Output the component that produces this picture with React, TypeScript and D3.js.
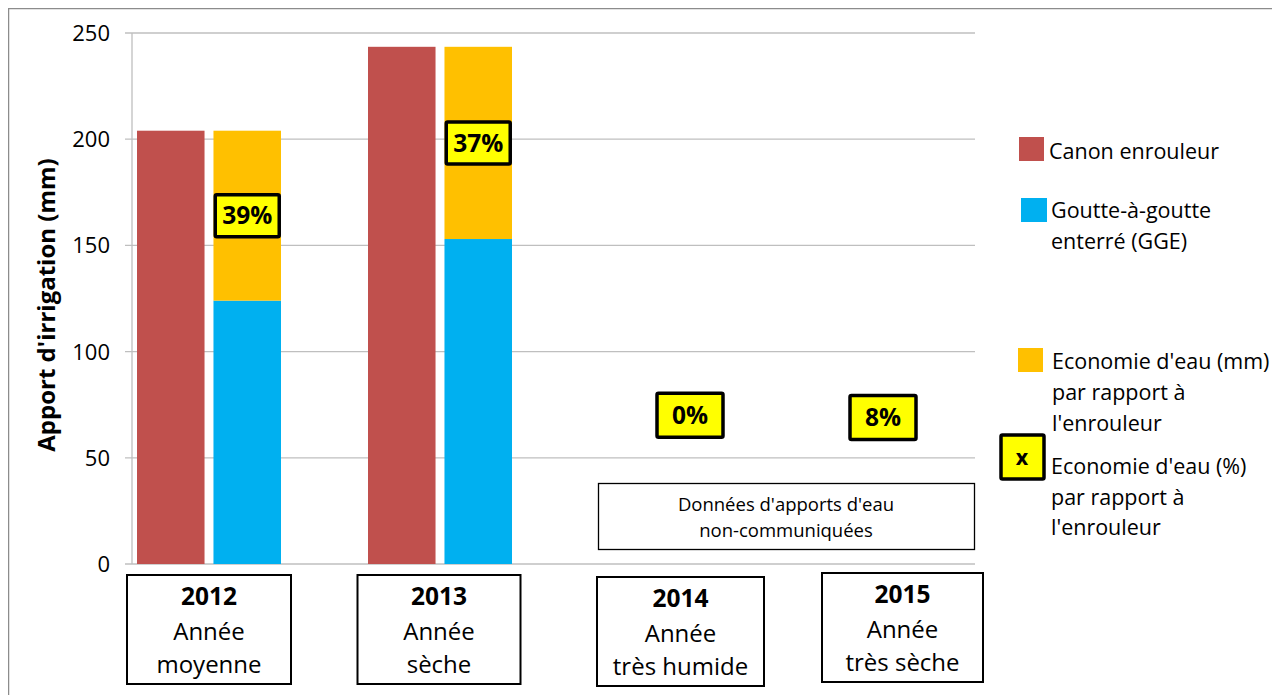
import React from "react";
import * as d3 from "d3";

const categories = ["2012", "2013", "2014", "2015"];
const categoryLine2 = ["Année", "Année", "Année", "Année"];
const categoryLine3 = ["moyenne", "sèche", "très humide", "très sèche"];
const canonValues = [204, 243.5, 0, 0];
const ggeValues = [124, 153, 0, 0];
const economyValues = [80, 90.5, 0, 0];
const economyPct = ["39%", "37%", "0%", "8%"];
const yTicks = [0, 50, 100, 150, 200, 250];

const FONT = "'Open Sans', 'Noto Sans', sans-serif";
const RED = "#C0504D";
const BLUE = "#00B0F0";
const ORANGE = "#FFC000";
const YELLOW = "#FFFF00";

export default function App() {
  const W = 1272;
  const H = 687;
  const ox = -8; // page offset compensation
  const oy = -8;
  const y = d3.scaleLinear().domain([0, 250]).range([564 + oy, 33 + oy]);
  const x = d3.scaleBand<string>().domain(categories).range([93.5 + ox, 1017.5 + ox]);
  const inner = d3
    .scaleBand<string>()
    .domain(["canon", "gge"])
    .range([43.5, x.bandwidth() - 43.5])
    .paddingInner(0.117);
  const axisX = 132 + ox;
  const gridEnd = 975 + ox;

  const labelBoxes = [
    { w: 64, h: 42 },
    { w: 64, h: 42 },
    { w: 66, h: 44 },
    { w: 66, h: 44 },
  ];
  const labelDx = [0, 0, 19, -19];
  const labelAt = [null, null, 70, 69];

  const catBoxDx = [0, -1, 9.5, 0.5];
  const catBoxDy = [0, 0, 2, -2];
  const catBoxW = [164, 163, 167, 161];

  return (
    <svg width={W} height={H} style={{ display: "block", fontFamily: FONT }}>
      <rect x={0.5} y={0.5} width={W + 40} height={H + 40} fill="#fff" stroke="#8c8c8c" strokeWidth={1.5} />
      {yTicks.map((t) => (
        <g key={t}>
          <line x1={125 + ox} x2={gridEnd} y1={y(t)} y2={y(t)} stroke="#BFBFBF" strokeWidth={1.3} />
          <text x={110 + ox} y={y(t)} dy="0.36em" textAnchor="end" fontSize={22} fill="#000">
            {t}
          </text>
        </g>
      ))}
      <line x1={axisX} x2={axisX} y1={y(250)} y2={y(0)} stroke="#BFBFBF" strokeWidth={1.3} />
      <text
        transform={`translate(${46 + ox},${305 + oy}) rotate(-90)`}
        textAnchor="middle"
        dy="0.36em"
        fontSize={24}
        fontWeight="bold"
      >
        Apport d'irrigation (mm)
      </text>

      {categories.map((c, i) => {
        const gx = x(c)!;
        const rx = gx + inner("canon")!;
        const bx = gx + inner("gge")!;
        const bw = inner.bandwidth();
        return (
          <g key={c}>
            {canonValues[i] > 0 && (
              <rect x={rx} y={y(canonValues[i])} width={bw} height={y(0) - y(canonValues[i])} fill={RED} />
            )}
            {ggeValues[i] > 0 && (
              <rect x={bx} y={y(ggeValues[i])} width={bw} height={y(0) - y(ggeValues[i])} fill={BLUE} />
            )}
            {economyValues[i] > 0 && (
              <rect
                x={bx}
                y={y(ggeValues[i] + economyValues[i])}
                width={bw}
                height={y(ggeValues[i]) - y(ggeValues[i] + economyValues[i])}
                fill={ORANGE}
              />
            )}
          </g>
        );
      })}

      {categories.map((c, i) => {
        const gx = x(c)!;
        const bx = gx + inner("gge")! + inner.bandwidth() / 2;
        const cx = labelAt[i] === null ? bx : gx + x.bandwidth() / 2 + labelDx[i];
        const cy =
          labelAt[i] === null
            ? (y(ggeValues[i]) + y(ggeValues[i] + economyValues[i])) / 2
            : y(labelAt[i] as number);
        const b = labelBoxes[i];
        return (
          <g key={"l" + c}>
            <rect x={cx - b.w / 2} y={cy - b.h / 2} width={b.w} height={b.h} fill={YELLOW} stroke="#000" strokeWidth={3.5} rx={1.5} />
            <text x={cx} y={cy} dy="0.36em" textAnchor="middle" fontSize={24.5} fontWeight="bold">
              {economyPct[i]}
            </text>
          </g>
        );
      })}

      <rect x={598.5 + ox} y={483.5 + oy} width={376} height={66} fill="#fff" stroke="#000" strokeWidth={1.3} />
      <text x={786 + ox} y={504 + oy} dy="0.36em" textAnchor="middle" fontSize={18.5}>
        Données d'apports d'eau
      </text>
      <text x={786 + ox} y={530 + oy} dy="0.36em" textAnchor="middle" fontSize={18.5}>
        non-communiquées
      </text>

      {categories.map((c, i) => {
        const cx = x(c)! + x.bandwidth() / 2 + catBoxDx[i];
        const top = 575 + oy + catBoxDy[i];
        const bw = catBoxW[i];
        const bh = 109;
        return (
          <g key={"c" + c}>
            <rect x={cx - bw / 2} y={top} width={bw} height={bh} fill="#fff" stroke="#000" strokeWidth={2} />
            <text x={cx} y={top + 21} dy="0.36em" textAnchor="middle" fontSize={24.5} fontWeight="bold">
              {c}
            </text>
            <text x={cx} y={top + 56} dy="0.36em" textAnchor="middle" fontSize={24}>
              {categoryLine2[i]}
            </text>
            <text x={cx} y={top + 89} dy="0.36em" textAnchor="middle" fontSize={24}>
              {categoryLine3[i]}
            </text>
          </g>
        );
      })}

      <g fontSize={21.5}>
        <rect x={1019 + ox} y={137 + oy} width={25} height={24} fill={RED} />
        <text x={1049 + ox} y={151 + oy} dy="0.36em">Canon enrouleur</text>

        <rect x={1021 + ox} y={198 + oy} width={26} height={24} fill={BLUE} />
        <text x={1051 + ox} y={210 + oy} dy="0.36em">Goutte-à-goutte</text>
        <text x={1051 + ox} y={241 + oy} dy="0.36em">enterré (GGE)</text>

        <rect x={1018 + ox} y={348 + oy} width={25} height={24} fill={ORANGE} />
        <text x={1052 + ox} y={361 + oy} dy="0.36em">Economie d'eau (mm)</text>
        <text x={1052 + ox} y={392 + oy} dy="0.36em">par rapport à</text>
        <text x={1052 + ox} y={423 + oy} dy="0.36em">l'enrouleur</text>

        <rect x={1001 + ox} y={435 + oy} width={43} height={44} fill={YELLOW} stroke="#000" strokeWidth={3.5} rx={1.5} />
        <text x={1022 + ox} y={457 + oy} dy="0.36em" textAnchor="middle" fontWeight="bold">x</text>
        <text x={1051 + ox} y={466 + oy} dy="0.36em">Economie d'eau (%)</text>
        <text x={1051 + ox} y={497 + oy} dy="0.36em">par rapport à</text>
        <text x={1051 + ox} y={527 + oy} dy="0.36em">l'enrouleur</text>
      </g>
    </svg>
  );
}
